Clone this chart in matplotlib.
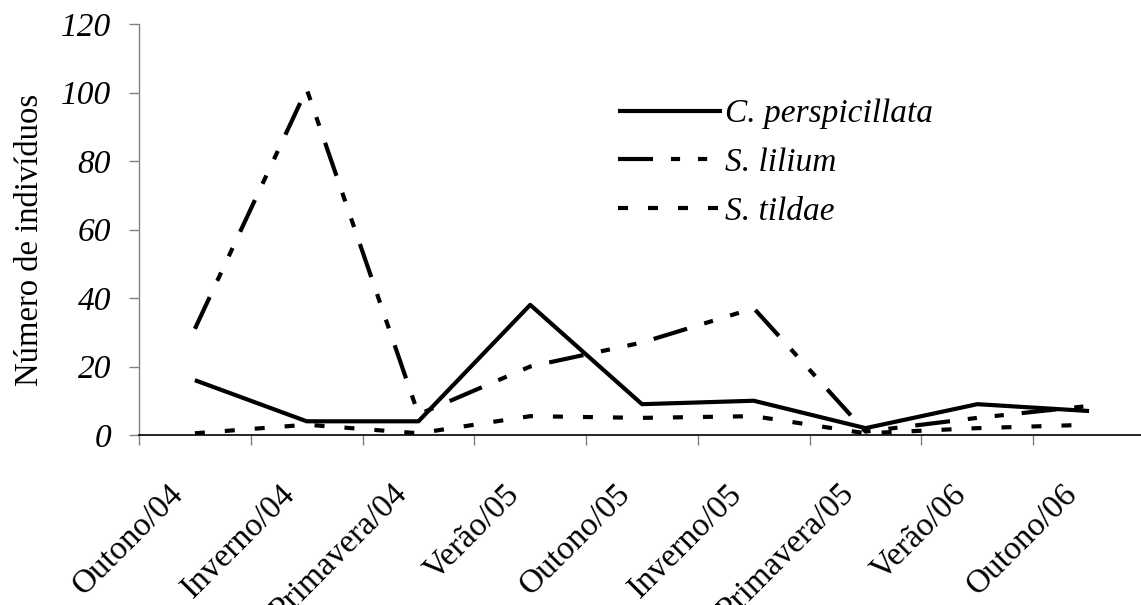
import matplotlib
matplotlib.use("Agg")
import matplotlib.pyplot as plt
import numpy as np

# dados
estacoes = ["Outono/04", "Inverno/04", "Primavera/04", "Verão/05", "Outono/05",
            "Inverno/05", "Primavera/05", "Verão/06", "Outono/06"]
c_perspicillata = [16, 4, 4, 38, 9, 10, 2, 9, 7]
s_lilium = [31, 101, 6, 20, 27, 37, 1, 5, 8.5]
s_tildae = [0.5, 3, 0.5, 5.5, 5, 5.5, 0.5, 2, 3]
y_ticks = [0, 20, 40, 60, 80, 100, 120]

plt.rcParams["font.family"] = ["Liberation Serif", "DejaVu Serif"]

fig = plt.figure(figsize=(11.41, 6.05), dpi=100)
W, H = 1141, 605
x0, x1 = 139, 1145
y0, y1 = 435, 24
ax = fig.add_axes([x0 / W, 1 - y0 / H, (x1 - x0) / W, (y0 - y1) / H])

x = np.arange(len(estacoes))
ax.plot(x, c_perspicillata, color="black", lw=3, ls="-",
        solid_capstyle="butt", label="C. perspicillata")
ax.plot(x, s_lilium, color="black", lw=3, ls=(0, (8.4, 4.3, 2.2, 4.3, 2.2, 4.3)),
        label="S. lilium")
ax.plot(x, s_tildae, color="black", lw=3, ls=(0, (2.4, 4.8)), label="S. tildae")

ax.set_xlim(-0.5, len(estacoes) - 0.5)
ax.set_ylim(0, 120)
ax.set_yticks(y_ticks)
ax.set_yticklabels([str(v) for v in y_ticks], fontsize=24, style="italic")

# marcas nos limites das categorias, rótulos (deslocados) no centro
ax.set_xticks(np.arange(-0.5, len(estacoes), 1.0))
ax.set_xticklabels([])
ax.set_xticks(x - 0.24, minor=True)
ax.set_xticklabels(estacoes, minor=True, fontsize=24, rotation=45,
                   ha="right", va="top", rotation_mode="anchor")
ax.tick_params(axis="x", which="minor", length=0, pad=31.5)
ax.tick_params(axis="x", which="major", length=7, width=1, color="#808080")
ax.tick_params(axis="y", length=7, width=1, color="#808080", pad=13)

for s in ["top", "right"]:
    ax.spines[s].set_visible(False)
ax.spines["left"].set_color("#808080")
ax.spines["bottom"].set_color("black")
ax.spines["left"].set_linewidth(1)
ax.spines["bottom"].set_linewidth(1.2)

ax.set_ylabel("Número de indivíduos", fontsize=23.5)
ax.yaxis.set_label_coords(-0.0935, 0.474)

leg = ax.legend(loc="upper left", bbox_to_anchor=(0.476, 0.818), frameon=False,
                fontsize=24, handlelength=3.12, handletextpad=0.1,
                labelspacing=0.55, borderpad=0, borderaxespad=0)
for t in leg.get_texts():
    t.set_style("italic")

fig.savefig("out.png", dpi=100)
